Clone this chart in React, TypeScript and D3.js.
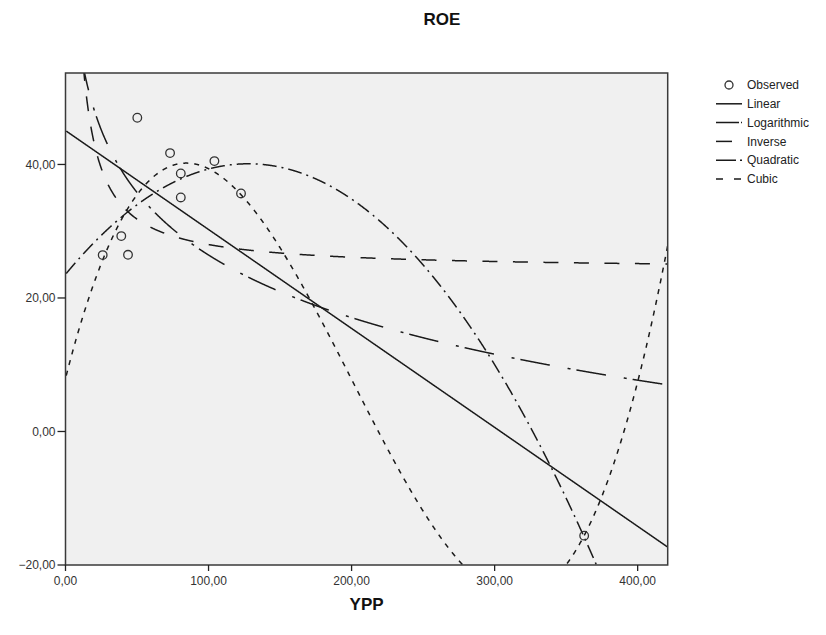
import React, { useMemo } from "react";
import * as d3 from "d3";

// Observed cases
const ypp = [26.0, 39.0, 43.7, 50.2, 73.1, 80.6, 80.6, 104.1, 122.7, 362.6];
const roe = [26.42, 29.27, 26.47, 47.0, 41.7, 38.65, 35.06, 40.5, 35.66, -15.6];

const xTicks = [0, 100, 200, 300, 400];
const yTicks = [-20, 0, 20, 40];
const xDomain = [0, 421];
const yDomain = [-20, 53.7];

const W = 826;
const H = 635;
const M = { left: 65.5, right: 826 - 667.7, top: 73, bottom: 635 - 565 };

// Least squares polynomial fit (x scaled for numeric stability)
function polyFit(xs: number[], ys: number[], degree: number): number[] {
  const s = 100;
  const n = degree + 1;
  const A: number[][] = Array.from({ length: n }, () => new Array(n + 1).fill(0));
  xs.forEach((x0, k) => {
    const x = x0 / s;
    for (let i = 0; i < n; i++) {
      for (let j = 0; j < n; j++) A[i][j] += Math.pow(x, i + j);
      A[i][n] += ys[k] * Math.pow(x, i);
    }
  });
  for (let c = 0; c < n; c++) {
    let p = c;
    for (let r = c + 1; r < n; r++) if (Math.abs(A[r][c]) > Math.abs(A[p][c])) p = r;
    [A[c], A[p]] = [A[p], A[c]];
    for (let r = 0; r < n; r++) {
      if (r === c) continue;
      const f = A[r][c] / A[c][c];
      for (let j = c; j <= n; j++) A[r][j] -= f * A[c][j];
    }
  }
  return A.map((row, i) => row[n] / row[i] / Math.pow(s, i));
}

function polyEval(coef: number[], x: number) {
  return coef.reduce((acc, c, i) => acc + c * Math.pow(x, i), 0);
}

type Series = { name: string; dash: string; legendDash?: string; f?: (x: number) => number };

export default function App() {
  const x = d3.scaleLinear().domain(xDomain).range([M.left, W - M.right]);
  const y = d3.scaleLinear().domain(yDomain).range([H - M.bottom, M.top]);

  const series: Series[] = useMemo(() => {
    const lin = polyFit(ypp, roe, 1);
    const quad = polyFit(ypp, roe, 2);
    const cub = polyFit(ypp, roe, 3);
    const logC = polyFit(ypp.map(Math.log), roe, 1);
    const invC = polyFit(ypp.map((v) => 1 / v), roe, 1);
    return [
      { name: "Linear", dash: "none", f: (v) => polyEval(lin, v) },
      { name: "Logarithmic", dash: "30,18,3,6", f: (v) => logC[0] + logC[1] * Math.log(v) },
      { name: "Inverse", dash: "15,15.5", f: (v) => invC[0] + invC[1] / v },
      { name: "Quadratic", dash: "14,5,2,5", f: (v) => polyEval(quad, v) },
      { name: "Cubic", dash: "5,6", f: (v) => polyEval(cub, v) },
    ];
  }, []);

  const samples = d3.range(0, 2001).map((i) => 0.5 + (i / 2000) * (xDomain[1] - 0.5));
  const line = d3
    .line<[number, number]>()
    .x((d) => x(d[0]))
    .y((d) => y(d[1]));

  const font = "'Liberation Sans', Arial, sans-serif";
  const legendX = 716;
  const legendY0 = 85;
  const legendStep = 18.8;

  return (
    <svg width={W} height={H} style={{ position: "absolute", left: 0, top: 0, background: "#fff" }} fontFamily={font}>
      <defs>
        <clipPath id="plotClip">
          <rect x={M.left} y={M.top} width={W - M.left - M.right} height={H - M.top - M.bottom} />
        </clipPath>
      </defs>
      <text x={442} y={25} textAnchor="middle" fontSize={17} fontWeight="bold" fill="#111">
        ROE
      </text>
      <rect
        x={M.left}
        y={M.top}
        width={W - M.left - M.right}
        height={H - M.top - M.bottom}
        fill="#f0f0f0"
      />
      <g clipPath="url(#plotClip)">
        {series.map((s) => (
          <path
            key={s.name}
            d={line(samples.map((v) => [v, s.f!(v)] as [number, number])) || ""}
            fill="none"
            stroke="#1a1a1a"
            strokeWidth={1.5}
            strokeDasharray={s.dash}
          />
        ))}
        {ypp.map((v, i) => (
          <circle key={i} cx={x(v)} cy={y(roe[i])} r={4.3} fill="none" stroke="#333" strokeWidth={1.3} />
        ))}
      </g>
      <rect
        x={M.left}
        y={M.top}
        width={W - M.left - M.right}
        height={H - M.top - M.bottom}
        fill="none"
        stroke="#3a3a3a"
        strokeWidth={1.5}
      />
      {xTicks.map((t) => (
        <g key={t} transform={`translate(${x(t)},${H - M.bottom})`}>
          <line y1={0} y2={6} stroke="#222" strokeWidth={1.3} />
          <text y={20} textAnchor="middle" fontSize={12} fill="#333">
            {d3.format(".2f")(t).replace(".", ",")}
          </text>
        </g>
      ))}
      {yTicks.map((t) => (
        <g key={t} transform={`translate(${M.left},${y(t)})`}>
          <line x1={-8} x2={0} stroke="#222" strokeWidth={1.3} />
          <text x={-10} dy="0.35em" textAnchor="end" fontSize={12} fill="#333">
            {d3.format(".2f")(t).replace(".", ",")}
          </text>
        </g>
      ))}
      <text x={(M.left + W - M.right) / 2} y={610} textAnchor="middle" fontSize={17} fontWeight="bold" fill="#111">
        YPP
      </text>
      <g>
        <circle cx={729} cy={legendY0} r={4} fill="none" stroke="#333" strokeWidth={1.3} />
        <text x={747} y={legendY0} dy="0.35em" fontSize={12} fill="#222">
          Observed
        </text>
        {series.map((s, i) => {
          const ly = legendY0 + legendStep * (i + 1);
          return (
            <g key={s.name}>
              <line
                x1={legendX}
                x2={legendX + 26}
                y1={ly}
                y2={ly}
                stroke="#1a1a1a"
                strokeWidth={1.5}
                strokeDasharray={
                  s.name === "Logarithmic"
                    ? "23,2,2,2"
                    : s.name === "Quadratic"
                    ? "20,4,2,4"
                    : s.name === "Inverse"
                    ? "16,20"
                    : s.name === "Cubic"
                    ? "7,11"
                    : "none"
                }
              />
              <text x={747} y={ly} dy="0.35em" fontSize={12} fill="#222">
                {s.name}
              </text>
            </g>
          );
        })}
      </g>
    </svg>
  );
}
